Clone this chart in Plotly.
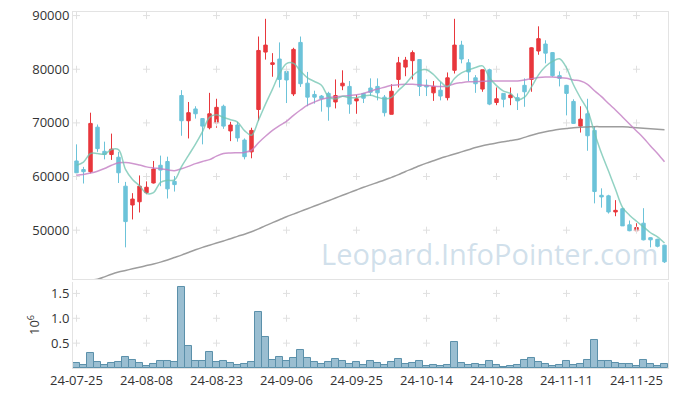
import plotly.graph_objects as go

dates = (
    ["24-07-25", "24-07-26", "24-07-29", "24-07-30", "24-07-31"]
    + ["24-08-%s" % d for d in ["01", "02", "05", "06", "07", "08", "09", "12", "13", "14", "16",
                                 "19", "20", "21", "22", "23", "26", "27", "28", "29", "30"]]
    + ["24-09-%s" % d for d in ["02", "03", "04", "05", "06", "09", "10", "11", "12", "13",
                                 "19", "20", "23", "24", "25", "26", "27", "30"]]
    + ["24-10-%s" % d for d in ["02", "04", "07", "08", "10", "11", "14", "15", "16", "17",
                                 "18", "21", "22", "23", "24", "25", "28", "29", "30", "31"]]
    + ["24-11-%s" % d for d in ["01", "04", "05", "06", "07", "08", "11", "12", "13", "14", "15",
                                 "18", "19", "20", "21", "22", "25", "26", "27", "28", "29"]]
)

opens = [62900, 61300, 60900, 69200, 64700, 64100, 63600, 58200, 54700, 55300,
         57000, 58800, 62100, 62800, 59100, 75100, 70400, 72600, 70800, 69100,
         70000, 73100, 68500, 69600, 66800, 64600, 72500, 83200, 80900, 81900,
         79600, 75400, 85000, 77400, 75300, 75000, 75500, 73900, 76900, 76800,
         74100, 75500, 76500, 76800, 74800, 71600, 78100, 80400, 81600, 81800,
         77000, 75600, 76100, 74700, 79800, 84500, 81200, 78400, 76300, 79900,
         73800, 75500, 74700, 74700, 77000, 78100, 83400, 84700, 83100, 78800,
         77000, 74000, 69400, 71700, 68600, 56500, 56400, 53400, 54000, 51000,
         49900, 51300, 48600, 48300, 47200]
highs = [66000, 61800, 71900, 69700, 66500, 68000, 64600, 59000, 56900, 60200,
         59100, 62900, 63900, 63700, 60100, 76100, 73900, 73100, 70900, 75600,
         74500, 73400, 70200, 70200, 67100, 69100, 86100, 89400, 83000, 85000,
         79900, 84000, 86100, 79500, 76000, 75200, 75800, 78100, 79800, 77800,
         75200, 75600, 78300, 78300, 75200, 77200, 82300, 82300, 83500, 81900,
         78100, 77800, 77600, 79400, 89400, 85300, 81900, 78900, 79900, 80100,
         76600, 75500, 76600, 75500, 78300, 84100, 88000, 85400, 83200, 79600,
         77100, 74400, 73100, 74500, 69300, 57800, 56600, 55600, 54200, 51800,
         51300, 54100, 48700, 48400, 47300]
lows = [60400, 58700, 60600, 64600, 63200, 63100, 58800, 46800, 52000, 53300,
        56700, 58700, 58200, 55900, 57200, 67600, 67100, 70800, 66000, 68800,
        69100, 68900, 66600, 66500, 63200, 63400, 70400, 81800, 78600, 76600,
        73700, 75000, 76700, 73100, 73600, 72100, 70400, 72700, 76100, 71700,
        71700, 73700, 75000, 74200, 71200, 71600, 76600, 78700, 78100, 75000,
        75000, 74100, 74200, 74200, 79200, 81100, 77800, 75600, 75800, 73300,
        73300, 72900, 73300, 72400, 73000, 75800, 82700, 81100, 78600, 76800,
        71400, 69800, 68200, 64800, 55000, 54200, 53100, 52600, 50800, 49800,
        49900, 48100, 46800, 46800, 43900]
closes = [60700, 60900, 69900, 65200, 64100, 65100, 60700, 51600, 55800, 58200,
          58000, 61400, 61200, 57700, 58500, 70400, 71900, 71700, 69400, 71700,
          72900, 69400, 69600, 67200, 63700, 68600, 83500, 84500, 81200, 78100,
          78000, 83700, 77300, 74800, 74800, 74500, 73000, 75100, 77400, 73500,
          74500, 74600, 75700, 75600, 71900, 75900, 81200, 81700, 83100, 76800,
          76700, 76800, 75000, 78400, 84500, 81900, 79500, 77300, 79900, 73500,
          74500, 74400, 75200, 74100, 75800, 84000, 85700, 83000, 78800, 78300,
          75500, 69900, 70700, 67600, 57200, 56200, 53400, 53700, 50800, 49900,
          50500, 48200, 48200, 47000, 44100]

ma5 = [62100, 62700, 64300, 64300, 64160, 65040, 65000, 61340, 59460, 58280,
       56860, 57000, 58920, 59300, 59360, 61840, 63940, 66040, 68380, 71020,
       71520, 71020, 70600, 70160, 68560, 67700, 70520, 73500, 76300, 79180,
       81060, 81100, 79660, 78380, 77720, 77020, 74880, 74440, 74960, 74700,
       74700, 75020, 75140, 74780, 74460, 74740, 76060, 77260, 78760, 79740,
       79900, 79020, 77680, 76740, 78280, 79320, 79860, 80320, 80620, 78420,
       76940, 75920, 75500, 74340, 74800, 76700, 78960, 80520, 81460, 81960,
       80260, 77100, 74640, 72400, 68180, 64320, 61020, 57620, 54260, 52800,
       51660, 50620, 49520, 48760, 47600]
ma20 = [60260, 60400, 60650, 61000, 61500, 62100, 62550, 62600, 62450, 62150,
        61800, 61600, 61450, 61250, 61100, 61450, 61900, 62400, 62800, 63150,
        63800, 64300, 64400, 64450, 64500, 64900, 66300, 67500, 68600, 69500,
        70300, 71400, 72400, 73300, 73900, 74400, 74700, 74850, 74950, 75100,
        75250, 75500, 75900, 76300, 76650, 77000, 77100, 77200, 77200, 77100,
        76950, 76850, 76800, 76850, 77300, 77500, 77650, 77700, 77750, 77800,
        77800, 77800, 77800, 77800, 78000, 78250, 78450, 78550, 78550, 78450,
        78300, 78000, 77800, 77200, 76000, 74900, 73600, 72400, 71100, 69800,
        68500, 67200, 65700, 64300, 62750]
ma120 = [40300, 40500, 40700, 40850, 41300, 41800, 42200, 42500, 42800, 43100,
         43400, 43700, 44050, 44450, 44900, 45350, 45850, 46350, 46800, 47200,
         47600, 48000, 48400, 48850, 49250, 49700, 50250, 50850, 51400, 51950,
         52500, 53000, 53500, 54000, 54500, 55000, 55500, 56000, 56500, 57000,
         57500, 58000, 58450, 58900, 59350, 59850, 60350, 60950, 61450, 62000,
         62500, 62950, 63400, 63800, 64200, 64600, 65000, 65400, 65750, 66000,
         66250, 66500, 66700, 66900, 67300, 67700, 68050, 68350, 68600, 68800,
         68950, 69100, 69200, 69250, 69300, 69300, 69300, 69300, 69280, 69200,
         69100, 69000, 68900, 68800, 68700]

volumes_m = [0.10, 0.06, 0.30, 0.12, 0.06, 0.10, 0.12, 0.22, 0.16, 0.10,
             0.04, 0.08, 0.14, 0.14, 0.12, 1.62, 0.44, 0.14, 0.14, 0.32,
             0.12, 0.14, 0.10, 0.06, 0.08, 0.12, 1.12, 0.62, 0.16, 0.22,
             0.14, 0.20, 0.36, 0.20, 0.12, 0.08, 0.12, 0.18, 0.14, 0.08,
             0.12, 0.06, 0.14, 0.10, 0.06, 0.12, 0.18, 0.08, 0.10, 0.14,
             0.04, 0.06, 0.04, 0.06, 0.52, 0.10, 0.06, 0.08, 0.06, 0.14,
             0.06, 0.02, 0.04, 0.06, 0.16, 0.20, 0.12, 0.08, 0.04, 0.06,
             0.14, 0.06, 0.08, 0.16, 0.56, 0.14, 0.14, 0.10, 0.08, 0.08,
             0.04, 0.16, 0.08, 0.04, 0.08]

price_ticks = [50000, 60000, 70000, 80000, 90000]
vol_ticks = [0.5, 1.0, 1.5]
x_ticks = dates[::10]

FONT = "Open Sans"
RED = "#e8373c"
BLUE = "#6cc3d9"
GRIDC = "#e0e0e0"
BORDER = "#e3e3e3"

fig = go.Figure()

# grid crosses (price)
fig.add_trace(go.Scatter(
    x=[d for d in x_ticks for _ in price_ticks],
    y=[v for _ in x_ticks for v in price_ticks],
    mode="markers", xaxis="x", yaxis="y",
    marker=dict(symbol="cross-thin", size=5, line=dict(width=1, color=GRIDC)),
    hoverinfo="skip", showlegend=False, cliponaxis=False))
# grid crosses (volume)
fig.add_trace(go.Scatter(
    x=[d for d in x_ticks for _ in vol_ticks],
    y=[v for _ in x_ticks for v in vol_ticks],
    mode="markers", xaxis="x2", yaxis="y2",
    marker=dict(symbol="cross-thin", size=5, line=dict(width=1, color=GRIDC)),
    hoverinfo="skip", showlegend=False))

fig.add_trace(go.Scatter(x=dates, y=ma120, mode="lines", xaxis="x", yaxis="y",
                         line=dict(color="rgba(140,140,140,0.85)", width=1.5, shape="spline"),
                         showlegend=False))
fig.add_trace(go.Candlestick(
    x=dates, open=opens, high=highs, low=lows, close=closes,
    xaxis="x", yaxis="y",
    increasing=dict(line=dict(color=RED, width=1), fillcolor=RED),
    decreasing=dict(line=dict(color=BLUE, width=1), fillcolor=BLUE),
    whiskerwidth=0, showlegend=False))
fig.add_trace(go.Scatter(x=dates, y=ma20, mode="lines", xaxis="x", yaxis="y",
                         line=dict(color="rgba(195,125,195,0.8)", width=1.5, shape="spline"),
                         showlegend=False))
fig.add_trace(go.Scatter(x=dates, y=ma5, mode="lines", xaxis="x", yaxis="y",
                         line=dict(color="rgba(110,195,175,0.75)", width=1.5, shape="spline"),
                         showlegend=False))

fig.add_trace(go.Bar(x=dates, y=volumes_m, xaxis="x2", yaxis="y2",
                     marker=dict(color="rgba(120,168,194,0.75)",
                                 line=dict(color="#5b90aa", width=1)),
                     showlegend=False))

fig.update_layout(
    width=669, height=389,
    margin=dict(l=65, r=9, t=4, b=29, autoexpand=False),
    paper_bgcolor="white", plot_bgcolor="white",
    font=dict(family=FONT, size=13, color="#333"),
    bargap=0,
    showlegend=False,
    xaxis=dict(type="category", categoryorder="array", categoryarray=dates,
               range=[-0.5, 84.5], domain=[0, 1], anchor="y", automargin=False,
               rangeslider=dict(visible=False), showticklabels=False,
               showgrid=False, zeroline=False,
               showline=True, mirror=True, linecolor=BORDER, linewidth=1),
    yaxis=dict(domain=[0.25, 1], anchor="x", range=[40900, 90670], automargin=False,
               tickvals=price_ticks, ticktext=[str(v) for v in price_ticks],
               ticklabeloverflow="allow",
               showgrid=False, zeroline=False,
               showline=True, mirror=True, linecolor=BORDER, linewidth=1,
               ticks="", ticklen=0),
    xaxis2=dict(type="category", categoryorder="array", categoryarray=dates,
                range=[-0.5, 84.5], domain=[0, 1], anchor="y2", matches="x",
                automargin=False, ticklabeloverflow="allow",
                tickvals=x_ticks, ticktext=x_ticks, tickangle=0,
                showgrid=False, zeroline=False,
                showline=True, linecolor=BORDER, linewidth=1, ticks=""),
    yaxis2=dict(domain=[0, 0.2416], anchor="x2", range=[0, 1.73], automargin=False,
                tickvals=vol_ticks, ticktext=["0.5", "1.0", "1.5"],
                ticklabeloverflow="allow",
                showgrid=False, zeroline=False,
                showline=True, mirror=True, linecolor=BORDER, linewidth=1,
                ticks="",
                title=dict(text="10<sup>6</sup>", standoff=8, font=dict(size=13))),
    annotations=[dict(text="Leopard.InfoPointer.com", xref="paper", yref="paper",
                      x=0.70, y=0.323, xanchor="center", yanchor="middle",
                      showarrow=False,
                      font=dict(family=FONT, size=29, color="rgba(170,198,218,0.55)"))],
)

fig.write_html("out.html")
